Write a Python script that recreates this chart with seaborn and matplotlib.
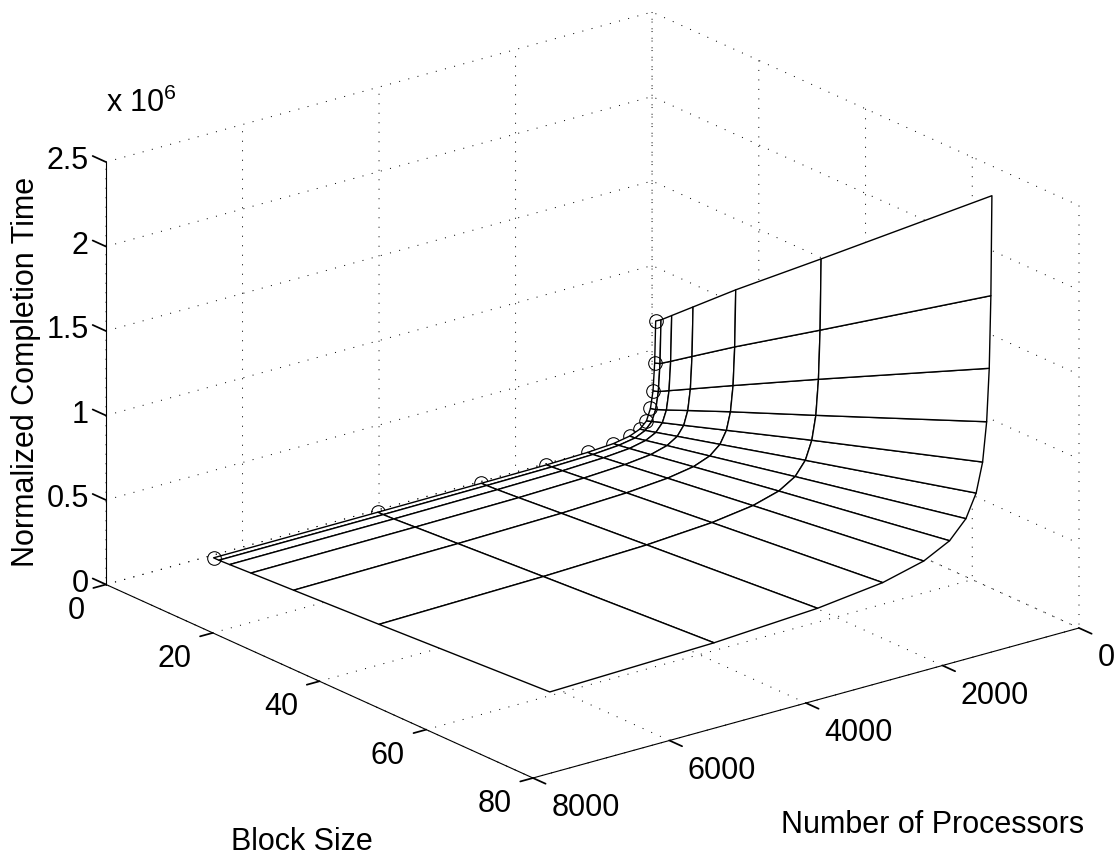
import numpy as np
import matplotlib
matplotlib.use("Agg")
import matplotlib.pyplot as plt
import seaborn as sns
from mpl_toolkits.mplot3d import proj3d

processors = [25, 40, 64, 102, 161, 256, 406, 645, 1024, 1625, 2580, 4096, 6502]
block_sizes = [1, 2, 4, 8, 16, 32, 64]
time_b1 = [.689, .442, .280, .180, .112, .075, .050, .032, .022, .015, .012, .009, .006]
time_b2 = [.710, .453, .290, .188, .123, .081, .053, .036, .024, .017, .013, .009, .006]
time_b4 = [.764, .495, .324, .214, .145, .098, .067, .046, .033, .023, .017, .012, .009]
time_b8 = [.872, .581, .391, .268, .187, .132, .094, .067, .050, .037, .027, .021, .016]
time_b16 = [1.088, .752, .526, .375, .272, .199, .147, .110, .084, .064, .049, .038, .029]
time_b32 = [1.500, 1.080, .792, .583, .442, .334, .254, .195, .151, .117, .091, .072, .056]
time_b64 = [2.332, 1.742, 1.315, 1.003, .771, .598, .463, .359, .281, .220, .174, .138, .114]
x_ticks = [0, 2000, 4000, 6000, 8000]
y_ticks = [0, 20, 40, 60, 80]
z_ticks = [0, 0.5, 1, 1.5, 2, 2.5]
x_tick_labels = ["0", "2000", "4000", "6000", "8000"]
y_tick_labels = ["0", "20", "40", "60", "80"]
z_tick_labels = ["0", "0.5", "1", "1.5", "2", "2.5"]

sns.set_theme(style="white")
plt.rcParams["font.family"] = ["Liberation Sans", "DejaVu Sans"]
plt.rcParams["mathtext.default"] = "regular"
plt.rcParams["text.color"] = "black"
plt.rcParams["grid.color"] = "black"
plt.rcParams["grid.linewidth"] = 0.72
plt.rcParams["grid.linestyle"] = (0, (1, 8.5))
plt.rcParams["axes.edgecolor"] = "black"
plt.rcParams["axes.linewidth"] = 0.8
plt.rcParams["xtick.color"] = "black"
plt.rcParams["ytick.color"] = "black"

W, H = 1117, 858
fig = plt.figure(figsize=(W / 100, H / 100), dpi=100, facecolor="white")
ax = fig.add_axes([0.1, 0.1, 0.8, 0.8], projection="3d", proj_type="ortho", computed_zorder=False)
ax.view_init(elev=20.66, azim=52.1)
ax.set_box_aspect((692, 695, 451.5))

Z = np.array([time_b1, time_b2, time_b4, time_b8, time_b16, time_b32, time_b64])
PP, BB = np.meshgrid(processors, block_sizes)

ax.plot(processors, [1] * 13, time_b1, ls="none", marker="o", ms=9.8, mfc="none", mec="black", mew=0.75,
        markevery=[5, 6, 7, 8, 9, 10, 11], zorder=1)
ax.plot_surface(PP, BB, Z, rstride=1, cstride=1, color="white", edgecolor="black", linewidth=1.0,
                shade=False, antialiased=True, zorder=2)
ax.plot(processors, [1] * 13, time_b1, ls="none", marker="o", ms=9.8, mfc="none", mec="black", mew=0.75,
        markevery=[0, 1, 2, 3, 4, 12], zorder=3)

ax.set_xlim(0, 8000)
ax.set_ylim(0, 80)
ax.set_zlim(0, 2.5)
ax.set_xticks(x_ticks)
ax.set_yticks(y_ticks)
ax.set_zticks(z_ticks)
ax.tick_params(axis="x", labelsize=22, colors="black", length=1, pad=9)
ax.tick_params(axis="y", labelsize=22, colors="black", length=1, pad=7.5)
ax.tick_params(axis="z", labelsize=22, colors="black", length=1, pad=-1)
ax.set_xticklabels(x_tick_labels, ha="left", va="center_baseline")
ax.set_yticklabels(y_tick_labels, ha="right", va="center_baseline")
ax.set_zticklabels(z_tick_labels, ha="right", va="center")

# tick marks only stick out of the box, on the side away from the surface
for axis, out, inw in ((ax.xaxis, 0, 0.37), (ax.yaxis, 0, 0.29), (ax.zaxis, 0.39, 0)):
    axis.set_pane_color((1, 1, 1, 1))
    axis.pane.set_edgecolor((1, 1, 1, 0))
    axis._axinfo["tick"]["inward_factor"] = inw
    axis._axinfo["tick"]["outward_factor"] = out
# z ticks point along the block-size direction, as in the reference
ax.zaxis._get_tickdir = lambda position: 1

ax.text2D(302 / W, 1 - 842 / H, "Block Size", transform=fig.transFigure, ha="center", va="center", fontsize=22)
ax.text2D(933 / W, 1 - 825 / H, "Number of Processors", transform=fig.transFigure, ha="center", va="center", fontsize=22)
ax.text2D(26 / W, 1 - 372 / H, "Normalized Completion Time", transform=fig.transFigure, ha="center", va="center",
          rotation=90, fontsize=22)
ax.text2D(106 / W, 1 - 112 / H, "x 10$^{6}$", transform=fig.transFigure, ha="left", va="baseline", fontsize=22)

# place the axes box so that the projected corners land where the reference has them
fig.canvas.draw()
def px(x, y, z):
    a, b, _ = proj3d.proj_transform(x, y, z, ax.get_proj())
    return ax.transData.transform((a, b))
left = px(8000, 0, 0)
right = px(0, 80, 0)
target_left = np.array([106, H - 584.5])
target_right = np.array([1079, H - 628])
s = (target_right[0] - target_left[0]) / (right[0] - left[0])
bb = ax.bbox
centre = np.array([(bb.x0 + bb.x1) / 2, (bb.y0 + bb.y1) / 2])
new_centre = target_left - s * (left - centre)
side = bb.width * s
ax.set_position([(new_centre[0] - side / 2) / W, (new_centre[1] - side / 2) / H, side / W, side / H])

fig.savefig("out.png", dpi=100, facecolor="white")
